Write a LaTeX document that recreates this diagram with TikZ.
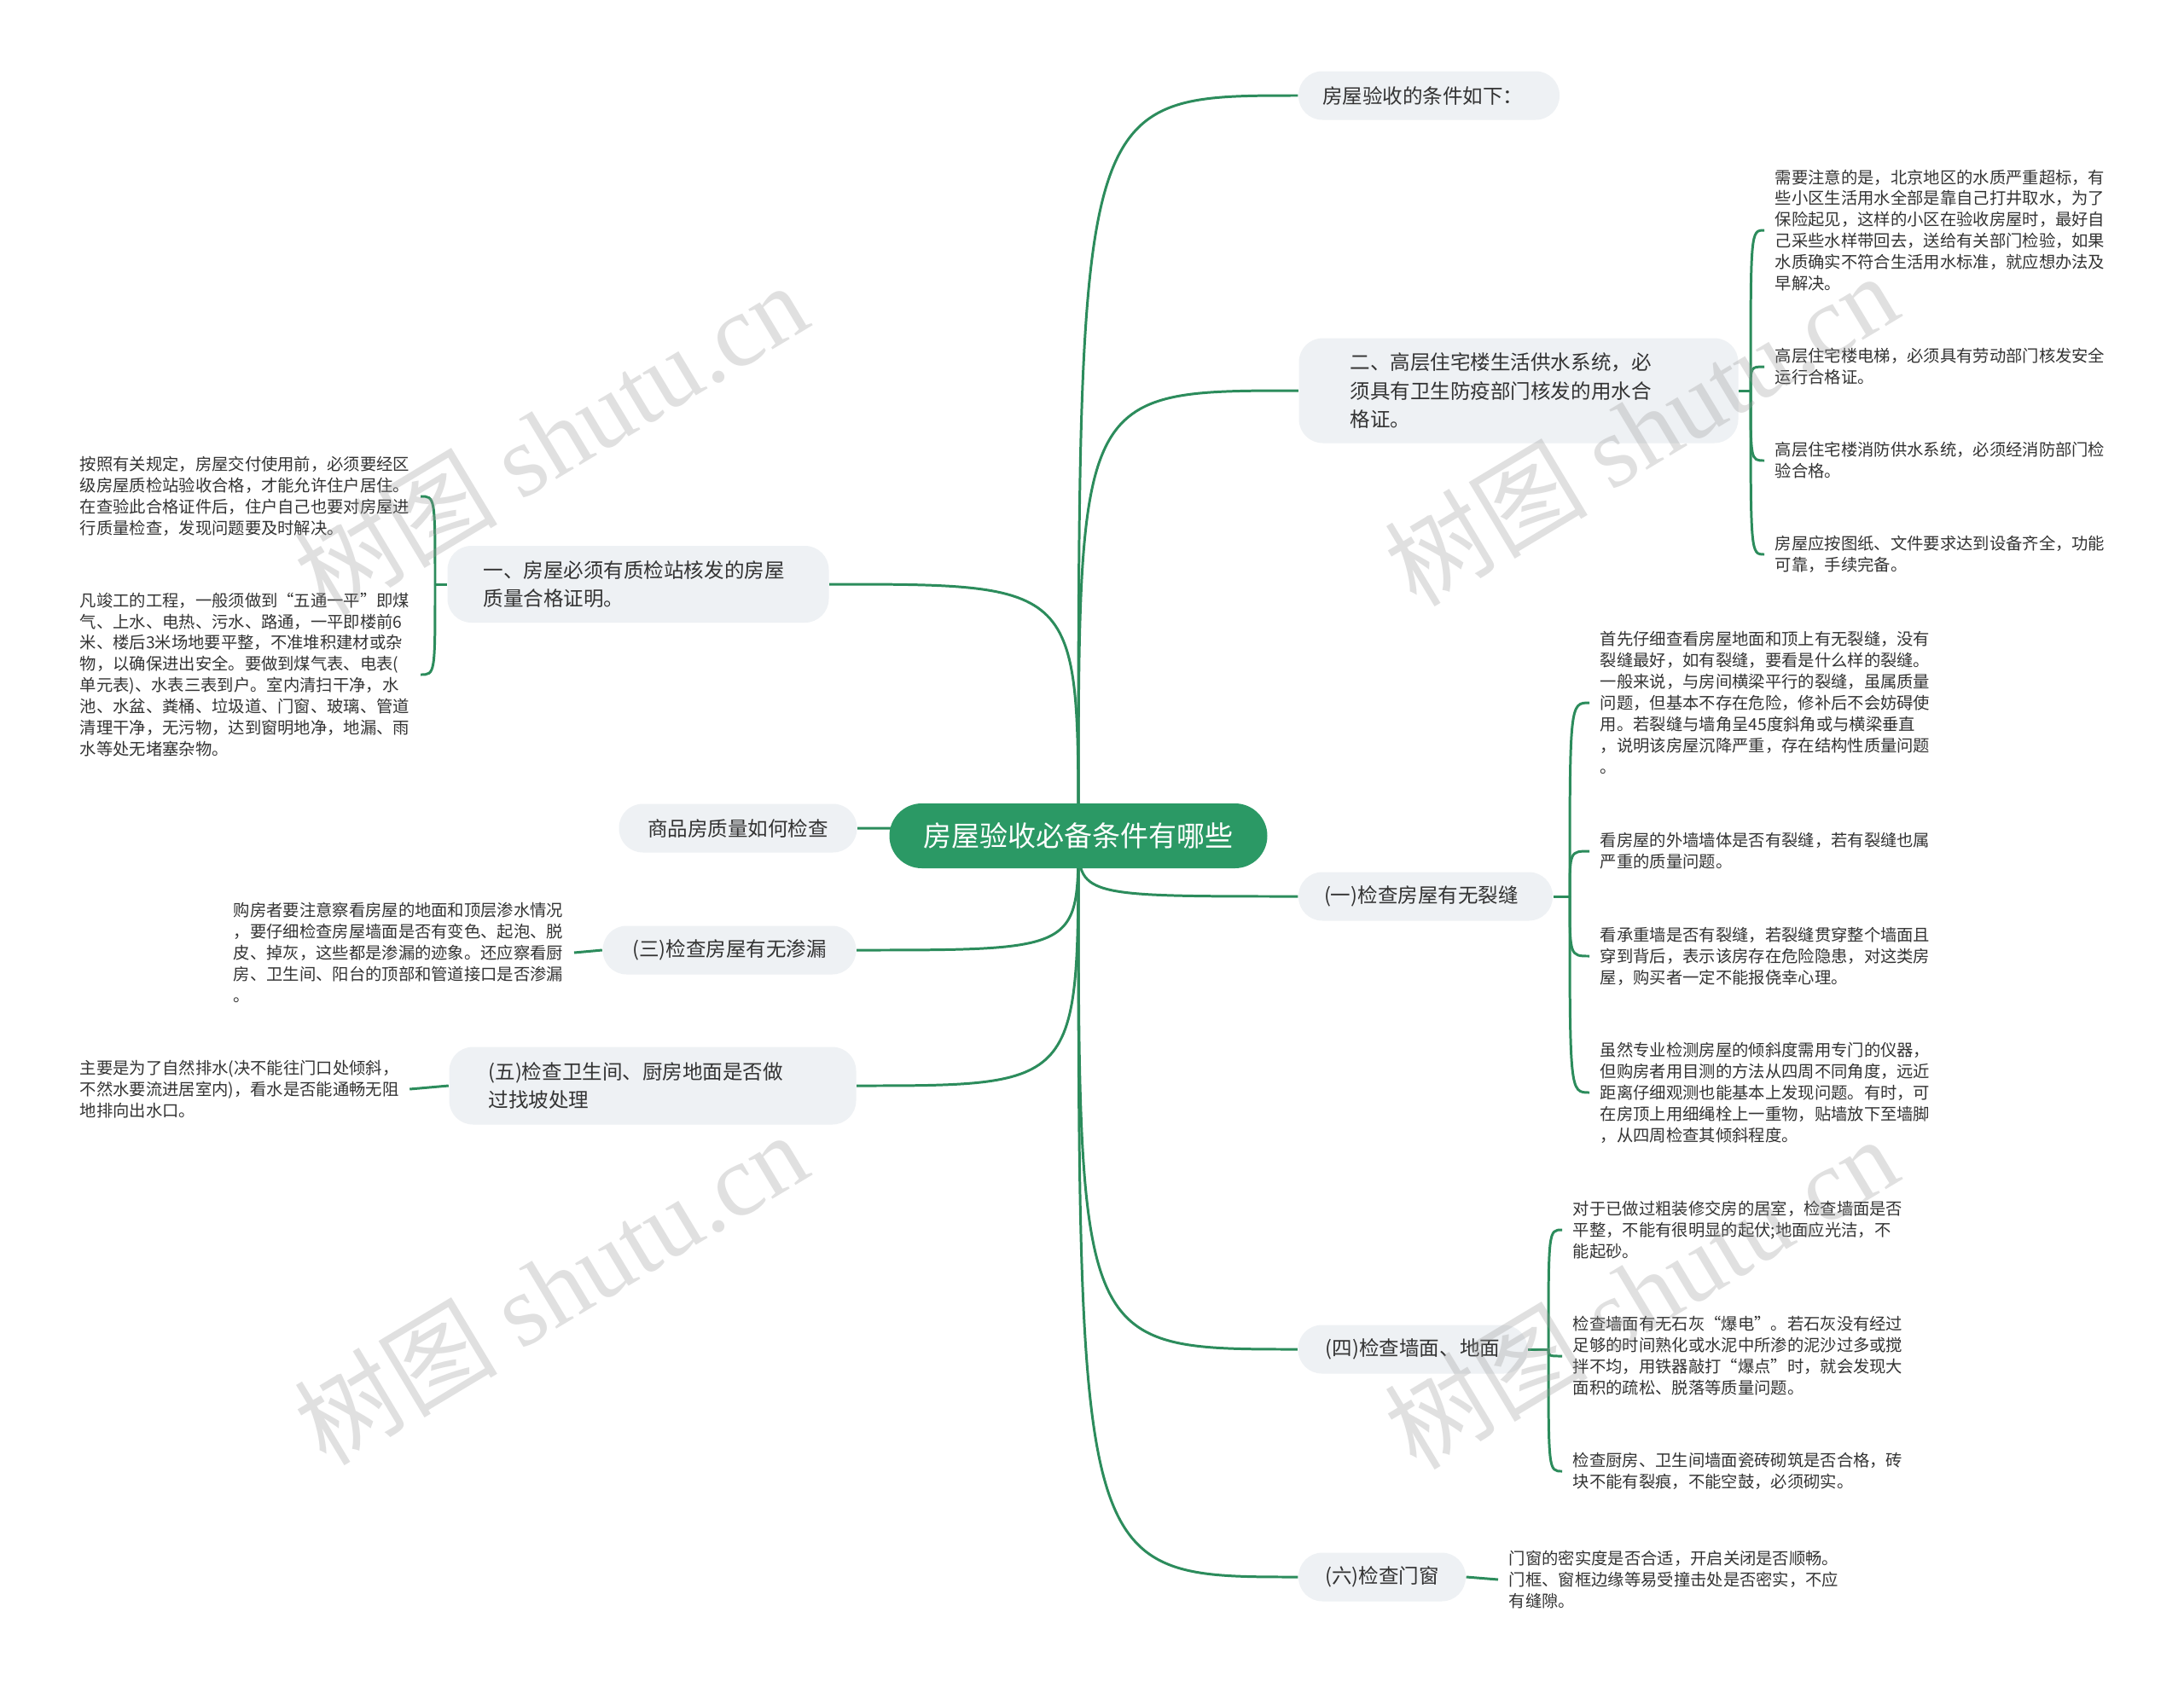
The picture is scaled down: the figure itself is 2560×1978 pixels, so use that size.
\documentclass[tikz,border=0pt]{standalone}
\usepackage{fontspec}
\setmainfont{Noto Sans CJK SC}
\newfontfamily\wmfont{Liberation Serif}
\usetikzlibrary{backgrounds}
\definecolor{linkgreen}{RGB}{44,140,92}
\definecolor{rootgreen}{RGB}{43,153,101}
\definecolor{pillgray}{RGB}{238,241,244}
\definecolor{inkgray}{RGB}{51,51,51}

\begin{document}
\begin{tikzpicture}[
    x=0.1mm, y=-0.1mm,
    topic/.style={fill=rootgreen, text=white, rounded corners=3.8mm, minimum width=44.3mm, minimum height=7.6mm, font=\fontsize{9.4}{11}\selectfont},
    branch/.style={fill=pillgray, text=inkgray, rounded corners=2.8mm, minimum height=5.7mm, align=left, font=\fontsize{6.7}{9.6}\selectfont},
    leaf/.style={text=inkgray, inner xsep=1.2mm, inner ysep=0pt, align=left, font=\fontsize{5.5}{7.1}\selectfont},
    link/.style={draw=linkgreen, line width=0.85pt},
    wmark/.style={text=black!40, text opacity=0.3, rotate=31, font=\fontsize{34}{34}\selectfont}
  ]
    \useasboundingbox (0,0) rectangle (2560,1978);

    \node[topic] (root) at (1264,980) {房屋验收必备条件有哪些};

    % right side
    \node[branch, inner xsep=2.8mm, text width=25mm] (n1) at (1675,112) {房屋验收的条件如下：};
    \node[branch, inner xsep=6mm, text width=39.5mm, minimum height=12.3mm] (n2) at (1780,458)
      {二、高层住宅楼生活供水系统，必\\须具有卫生防疫部门核发的用水合\\格证。};
    \node[branch, inner xsep=3mm, text width=23.8mm] (n3) at (1671,1051) {(一)检查房屋有无裂缝};
    \node[branch, minimum width=26.9mm] (n4) at (1656,1582) {(四)检查墙面、地面};
    \node[branch, minimum width=19.6mm] (n5) at (1620,1849) {(六)检查门窗};

    % left side
    \node[branch, inner xsep=4.2mm, text width=36.3mm, minimum height=9mm] (n6) at (748,685)
      {一、房屋必须有质检站核发的房屋\\质量合格证明。};
    \node[branch, minimum width=27.9mm] (n7) at (865,971) {商品房质量如何检查};
    \node[branch, minimum width=29.7mm] (n8) at (855,1114) {(三)检查房屋有无渗漏};
    \node[branch, inner xsep=4.6mm, text width=38.5mm, minimum height=9.1mm] (n9) at (765,1273)
      {(五)检查卫生间、厨房地面是否做\\过找坡处理};

    % leaves of n2
    \node[leaf, anchor=west] (r2a) at (2068,270)
      {需要注意的是，北京地区的水质严重超标，有\\些小区生活用水全部是靠自己打井取水，为了\\保险起见，这样的小区在验收房屋时，最好自\\己采些水样带回去，送给有关部门检验，如果\\水质确实不符合生活用水标准，就应想办法及\\早解决。};
    \node[leaf, anchor=west] (r2b) at (2068,430)
      {高层住宅楼电梯，必须具有劳动部门核发安全\\运行合格证。};
    \node[leaf, anchor=west] (r2c) at (2068,540)
      {高层住宅楼消防供水系统，必须经消防部门检\\验合格。};
    \node[leaf, anchor=west] (r2d) at (2068,650)
      {房屋应按图纸、文件要求达到设备齐全，功能\\可靠，手续完备。};

    % leaves of n3
    \node[leaf, anchor=west] (r3a) at (1863,824)
      {首先仔细查看房屋地面和顶上有无裂缝，没有\\裂缝最好，如有裂缝，要看是什么样的裂缝。\\一般来说，与房间横梁平行的裂缝，虽属质量\\问题，但基本不存在危险，修补后不会妨碍使\\用。若裂缝与墙角呈45度斜角或与横梁垂直\\，说明该房屋沉降严重，存在结构性质量问题\\。};
    \node[leaf, anchor=west] (r3b) at (1863,998)
      {看房屋的外墙墙体是否有裂缝，若有裂缝也属\\严重的质量问题。};
    \node[leaf, anchor=west] (r3c) at (1863,1121)
      {看承重墙是否有裂缝，若裂缝贯穿整个墙面且\\穿到背后，表示该房存在危险隐患，对这类房\\屋，购买者一定不能报侥幸心理。};
    \node[leaf, anchor=west] (r3d) at (1863,1281)
      {虽然专业检测房屋的倾斜度需用专门的仪器，\\但购房者用目测的方法从四周不同角度，远近\\距离仔细观测也能基本上发现问题。有时，可\\在房顶上用细绳栓上一重物，贴墙放下至墙脚\\，从四周检查其倾斜程度。};

    % leaves of n4
    \node[leaf, anchor=west] (r4a) at (1831,1442)
      {对于已做过粗装修交房的居室，检查墙面是否\\平整，不能有很明显的起伏;地面应光洁，不\\能起砂。};
    \node[leaf, anchor=west] (r4b) at (1831,1590)
      {检查墙面有无石灰“爆电”。若石灰没有经过\\足够的时间熟化或水泥中所渗的泥沙过多或搅\\拌不均，用铁器敲打“爆点”时，就会发现大\\面积的疏松、脱落等质量问题。};
    \node[leaf, anchor=west] (r4c) at (1831,1725)
      {检查厨房、卫生间墙面瓷砖砌筑是否合格，砖\\块不能有裂痕，不能空鼓，必须砌实。};

    % leaf of n5
    \node[leaf, anchor=west] (r5) at (1756,1852)
      {门窗的密实度是否合适，开启关闭是否顺畅。\\门框、窗框边缘等易受撞击处是否密实，不应\\有缝隙。};

    % leaves on the left
    \node[leaf, anchor=west] (l1a) at (81,582)
      {按照有关规定，房屋交付使用前，必须要经区\\级房屋质检站验收合格，才能允许住户居住。\\在查验此合格证件后，住户自己也要对房屋进\\行质量检查，发现问题要及时解决。};
    \node[leaf, anchor=west] (l1b) at (81,791)
      {凡竣工的工程，一般须做到“五通一平”即煤\\气、上水、电热、污水、路通，一平即楼前6\\米、楼后3米场地要平整，不准堆积建材或杂\\物，以确保进出安全。要做到煤气表、电表(\\单元表)、水表三表到户。室内清扫干净，水\\池、水盆、粪桶、垃圾道、门窗、玻璃、管道\\清理干净，无污物，达到窗明地净，地漏、雨\\水等处无堵塞杂物。};
    \node[leaf, anchor=west] (l3) at (261,1117)
      {购房者要注意察看房屋的地面和顶层渗水情况\\，要仔细检查房屋墙面是否有变色、起泡、脱\\皮、掉灰，这些都是渗漏的迹象。还应察看厨\\房、卫生间、阳台的顶部和管道接口是否渗漏\\。};
    \node[leaf, anchor=west] (l5) at (81,1277)
      {主要是为了自然排水(决不能往门口处倾斜，\\不然水要流进居室内)，看水是否能通畅无阻\\地排向出水口。};

    \coordinate (j2) at (2052,458);
    \coordinate (j3) at (1840,1051);
    \coordinate (j4) at (1815,1582);
    \coordinate (j6) at (510,685);

    \begin{scope}[on background layer]
      \fill[white] (0,0) rectangle (2560,1978);
      \foreach \b in {n1,n2,n3,n4,n5}
        \draw[link] (root.center) .. controls (root.center |- \b.west) .. (\b.west);
      \foreach \b in {n6,n7,n8,n9}
        \draw[link] (root.center) .. controls (root.center |- \b.east) .. (\b.east);
    \end{scope}

    \draw[link] (n2.east) -- (j2);
    \foreach \l in {r2a,r2b,r2c,r2d}
      \draw[link] (j2) .. controls (j2 |- \l.west) .. (\l.west);
    \draw[link] (n3.east) -- (j3);
    \foreach \l in {r3a,r3b,r3c,r3d}
      \draw[link] (j3) .. controls (j3 |- \l.west) .. (\l.west);
    \draw[link] (n4.east) -- (j4);
    \foreach \l in {r4a,r4b,r4c}
      \draw[link] (j4) .. controls (j4 |- \l.west) .. (\l.west);
    \draw[link] (n5.east) -- (r5.west);
    \draw[link] (n6.west) -- (j6);
    \foreach \l in {l1a,l1b}
      \draw[link] (j6) .. controls (j6 |- \l.east) .. (\l.east);
    \draw[link] (n8.west) -- (l3.east);
    \draw[link] (n9.west) -- (l5.east);

    % watermark
    \foreach \p [count=\i] in {(645,514),(1923,503),(645,1510),(1923,1515)}
      \node[wmark] (wm\i) at \p {树图 {\wmfont shutu.cn}};
\end{tikzpicture}
\end{document}
